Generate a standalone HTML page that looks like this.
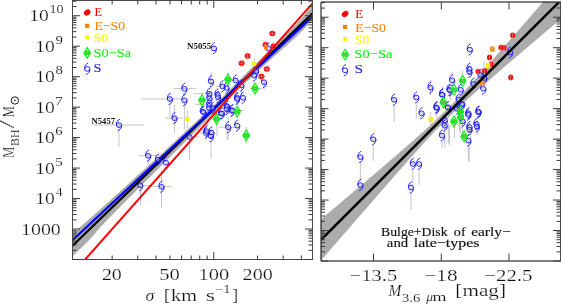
<!DOCTYPE html><html><head><meta charset="utf-8"><style>html,body{margin:0;padding:0;background:#fff;width:561px;height:305px;overflow:hidden}svg{display:block;will-change:transform}text{font-family:"Liberation Serif",serif}</style></head><body>
<svg width="561" height="305" viewBox="0 0 561 305">
<defs>
<clipPath id="cl"><rect x="72.5" y="0.5" width="240.0" height="259.0"/></clipPath>
<clipPath id="cr"><rect x="321.0" y="2.0" width="239.5" height="259.0"/></clipPath>
<g id="S0" fill="none" stroke="#1a1aff" stroke-width="0.95"><ellipse cx="0" cy="0.1" rx="2.6" ry="2.35"/><path d="M0.9,-5.7 C-1.5,-5.0 -2.7,-2.8 -2.6,0.1 M2.6,0.1 C2.7,3.0 1.2,5.0 -1.2,5.7"/></g>
<g id="S"><circle cx="0" cy="0.1" r="1.1" fill="none" stroke="#b0b0b0" stroke-width="0.7"/><use href="#S0"/></g>
<g id="G"><path d="M0,-5.4 L3.3,0 L0,5.4 L-3.3,0 Z" fill="none" stroke="#10f010" stroke-width="1.1"/><ellipse rx="3.3" ry="2.4" fill="#10f010"/><path d="M-2,0 H2 M0,-2 V2" stroke="#a0a0a0" stroke-width="0.6"/></g>
<g id="EL"><ellipse rx="3.6" ry="2.6" transform="rotate(-35)" fill="#ff0000"/></g>
<g id="E"><ellipse rx="2.95" ry="2.75" fill="#ff0000"/><path d="M-3.5,0 H3.5 M0,-3.6 V3.6" stroke="#b0b0b0" stroke-width="0.6"/></g>
<g id="ER"><ellipse rx="2.5" ry="2.8" fill="#ff0000"/><path d="M0,-3.4 V3.4" stroke="#c8c8c8" stroke-width="0.6"/></g>
<g id="O"><rect x="-2.1" y="-2.1" width="4.2" height="4.2" fill="#ff8000"/></g>
<g id="Y"><rect x="-2.1" y="-2.1" width="4.2" height="4.2" fill="#f8f800"/></g>
<g id="OR"><rect x="-2.2" y="-2.6" width="4.4" height="5.2" fill="#ff8000"/><path d="M0,-3 V3" stroke="#d0d0d0" stroke-width="0.6"/></g>
<g id="YR"><rect x="-2.2" y="-2.6" width="4.4" height="5.2" fill="#f8f800"/><path d="M0,-3 V3" stroke="#d0d0d0" stroke-width="0.6"/></g>
</defs>
<g clip-path="url(#cl)">
<line x1="93.90" y1="125.00" x2="144.10" y2="125.00" stroke="#c4c4c4" stroke-width="1" />
<line x1="119.00" y1="125.00" x2="119.00" y2="146.70" stroke="#c4c4c4" stroke-width="1" />
<line x1="173.20" y1="88.70" x2="196.20" y2="88.70" stroke="#c4c4c4" stroke-width="1" />
<line x1="140.80" y1="98.90" x2="181.40" y2="98.90" stroke="#c4c4c4" stroke-width="1" />
<line x1="169.90" y1="98.90" x2="169.90" y2="117.20" stroke="#c4c4c4" stroke-width="1" />
<line x1="184.40" y1="100.20" x2="184.40" y2="130.00" stroke="#c4c4c4" stroke-width="1" />
<line x1="193.70" y1="93.70" x2="210.00" y2="93.70" stroke="#c4c4c4" stroke-width="1" />
<line x1="165.00" y1="118.10" x2="183.00" y2="118.10" stroke="#c4c4c4" stroke-width="1" />
<line x1="174.50" y1="118.10" x2="174.50" y2="133.00" stroke="#c4c4c4" stroke-width="1" />
<line x1="174.50" y1="105.00" x2="174.50" y2="118.10" stroke="#c4c4c4" stroke-width="1" />
<line x1="187.30" y1="118.90" x2="187.30" y2="128.00" stroke="#c4c4c4" stroke-width="1" />
<line x1="187.30" y1="110.70" x2="187.30" y2="118.90" stroke="#c4c4c4" stroke-width="1" />
<line x1="184.70" y1="137.00" x2="199.50" y2="137.00" stroke="#c4c4c4" stroke-width="1" />
<line x1="189.60" y1="137.00" x2="189.60" y2="159.60" stroke="#c4c4c4" stroke-width="1" />
<line x1="211.00" y1="136.20" x2="211.00" y2="158.60" stroke="#c4c4c4" stroke-width="1" />
<line x1="228.20" y1="127.20" x2="228.20" y2="139.30" stroke="#c4c4c4" stroke-width="1" />
<line x1="228.20" y1="116.70" x2="228.20" y2="127.20" stroke="#c4c4c4" stroke-width="1" />
<line x1="138.30" y1="155.70" x2="158.00" y2="155.70" stroke="#c4c4c4" stroke-width="1" />
<line x1="148.20" y1="155.70" x2="148.20" y2="179.00" stroke="#c4c4c4" stroke-width="1" />
<line x1="132.60" y1="185.70" x2="152.30" y2="185.70" stroke="#c4c4c4" stroke-width="1" />
<line x1="140.50" y1="185.70" x2="140.50" y2="205.40" stroke="#c4c4c4" stroke-width="1" />
<line x1="152.30" y1="186.70" x2="172.00" y2="186.70" stroke="#c4c4c4" stroke-width="1" />
<line x1="161.50" y1="186.70" x2="161.50" y2="207.40" stroke="#c4c4c4" stroke-width="1" />
<line x1="161.50" y1="170.00" x2="161.50" y2="186.70" stroke="#c4c4c4" stroke-width="1" />
<line x1="246.20" y1="135.00" x2="246.20" y2="144.20" stroke="#c4c4c4" stroke-width="1" />
<line x1="246.20" y1="126.50" x2="246.20" y2="135.00" stroke="#c4c4c4" stroke-width="1" />
<line x1="232.40" y1="80.50" x2="248.00" y2="80.50" stroke="#c4c4c4" stroke-width="1" />
<line x1="264.00" y1="82.10" x2="264.00" y2="90.30" stroke="#c4c4c4" stroke-width="1" />
<line x1="264.00" y1="83.00" x2="264.00" y2="82.10" stroke="#c4c4c4" stroke-width="1" />
<line x1="250.00" y1="88.50" x2="262.00" y2="88.50" stroke="#c4c4c4" stroke-width="1" />
<line x1="268.80" y1="33.60" x2="275.80" y2="33.60" stroke="#c4c4c4" stroke-width="1" />
<line x1="272.30" y1="33.60" x2="272.30" y2="37.20" stroke="#c4c4c4" stroke-width="1" />
<line x1="272.30" y1="30.00" x2="272.30" y2="33.60" stroke="#c4c4c4" stroke-width="1" />
<line x1="262.00" y1="44.70" x2="269.00" y2="44.70" stroke="#c4c4c4" stroke-width="1" />
<line x1="265.50" y1="44.70" x2="265.50" y2="48.30" stroke="#c4c4c4" stroke-width="1" />
<line x1="265.50" y1="41.00" x2="265.50" y2="44.70" stroke="#c4c4c4" stroke-width="1" />
<line x1="270.00" y1="46.20" x2="277.00" y2="46.20" stroke="#c4c4c4" stroke-width="1" />
<line x1="273.50" y1="46.20" x2="273.50" y2="49.80" stroke="#c4c4c4" stroke-width="1" />
<line x1="273.50" y1="42.60" x2="273.50" y2="46.20" stroke="#c4c4c4" stroke-width="1" />
<line x1="244.10" y1="56.00" x2="251.10" y2="56.00" stroke="#c4c4c4" stroke-width="1" />
<line x1="247.60" y1="56.00" x2="247.60" y2="59.60" stroke="#c4c4c4" stroke-width="1" />
<line x1="247.60" y1="52.40" x2="247.60" y2="56.00" stroke="#c4c4c4" stroke-width="1" />
<line x1="238.10" y1="63.20" x2="245.10" y2="63.20" stroke="#c4c4c4" stroke-width="1" />
<line x1="241.60" y1="63.20" x2="241.60" y2="66.80" stroke="#c4c4c4" stroke-width="1" />
<line x1="241.60" y1="59.60" x2="241.60" y2="63.20" stroke="#c4c4c4" stroke-width="1" />
<line x1="263.30" y1="69.00" x2="270.30" y2="69.00" stroke="#c4c4c4" stroke-width="1" />
<line x1="266.80" y1="69.00" x2="266.80" y2="72.60" stroke="#c4c4c4" stroke-width="1" />
<line x1="266.80" y1="65.40" x2="266.80" y2="69.00" stroke="#c4c4c4" stroke-width="1" />
<line x1="257.90" y1="76.40" x2="264.90" y2="76.40" stroke="#c4c4c4" stroke-width="1" />
<line x1="261.40" y1="76.40" x2="261.40" y2="80.00" stroke="#c4c4c4" stroke-width="1" />
<line x1="261.40" y1="72.80" x2="261.40" y2="76.40" stroke="#c4c4c4" stroke-width="1" />
<line x1="251.20" y1="64.00" x2="257.20" y2="64.00" stroke="#c4c4c4" stroke-width="1" />
<line x1="254.20" y1="64.00" x2="254.20" y2="70.00" stroke="#c4c4c4" stroke-width="1" />
<line x1="254.20" y1="58.00" x2="254.20" y2="64.00" stroke="#c4c4c4" stroke-width="1" />
<line x1="224.00" y1="79.50" x2="232.00" y2="79.50" stroke="#c4c4c4" stroke-width="1" />
<line x1="228.00" y1="79.50" x2="228.00" y2="87.00" stroke="#c4c4c4" stroke-width="1" />
<line x1="228.00" y1="72.00" x2="228.00" y2="79.50" stroke="#c4c4c4" stroke-width="1" />
<line x1="198.00" y1="100.20" x2="206.00" y2="100.20" stroke="#c4c4c4" stroke-width="1" />
<line x1="202.00" y1="100.20" x2="202.00" y2="107.00" stroke="#c4c4c4" stroke-width="1" />
<line x1="202.00" y1="93.00" x2="202.00" y2="100.20" stroke="#c4c4c4" stroke-width="1" />
<line x1="212.50" y1="119.00" x2="220.50" y2="119.00" stroke="#c4c4c4" stroke-width="1" />
<line x1="216.50" y1="119.00" x2="216.50" y2="126.00" stroke="#c4c4c4" stroke-width="1" />
<line x1="216.50" y1="112.00" x2="216.50" y2="119.00" stroke="#c4c4c4" stroke-width="1" />
<line x1="233.00" y1="111.60" x2="241.00" y2="111.60" stroke="#c4c4c4" stroke-width="1" />
<line x1="237.20" y1="111.60" x2="237.20" y2="118.00" stroke="#c4c4c4" stroke-width="1" />
<line x1="237.20" y1="105.00" x2="237.20" y2="111.60" stroke="#c4c4c4" stroke-width="1" />
<line x1="195.00" y1="104.30" x2="210.00" y2="104.30" stroke="#c4c4c4" stroke-width="1" />
<line x1="219.60" y1="127.60" x2="239.20" y2="127.60" stroke="#c4c4c4" stroke-width="1" />
<line x1="227.00" y1="126.00" x2="227.00" y2="140.00" stroke="#c4c4c4" stroke-width="1" />
<line x1="217.00" y1="116.60" x2="217.00" y2="136.00" stroke="#c4c4c4" stroke-width="1" />
<line x1="224.50" y1="110.50" x2="244.00" y2="110.50" stroke="#c4c4c4" stroke-width="1" />
<line x1="200.00" y1="132.90" x2="214.00" y2="132.90" stroke="#c4c4c4" stroke-width="1" />
<line x1="241.40" y1="85.40" x2="241.40" y2="95.00" stroke="#c4c4c4" stroke-width="1" />
<line x1="241.40" y1="80.00" x2="241.40" y2="85.40" stroke="#c4c4c4" stroke-width="1" />
<line x1="216.00" y1="86.30" x2="229.00" y2="86.30" stroke="#c4c4c4" stroke-width="1" />
<line x1="211.00" y1="81.30" x2="211.00" y2="90.00" stroke="#c4c4c4" stroke-width="1" />
<line x1="211.00" y1="72.00" x2="211.00" y2="81.30" stroke="#c4c4c4" stroke-width="1" />
<polygon fill="#ababab" points="72.0,234.2 73.0,233.3 74.0,232.4 75.0,231.6 76.0,230.7 77.0,229.8 78.0,228.9 79.0,228.0 80.0,227.2 81.0,226.3 82.0,225.4 83.0,224.5 84.0,223.6 85.0,222.7 86.0,221.9 87.0,221.0 88.0,220.1 89.0,219.2 90.0,218.3 91.0,217.5 92.0,216.6 93.0,215.7 94.0,214.8 95.0,213.9 96.0,213.0 97.0,212.2 98.0,211.3 99.0,210.4 100.0,209.5 101.0,208.6 102.0,207.7 103.0,206.8 104.0,205.9 105.0,205.0 106.0,204.1 107.0,203.2 108.0,202.3 109.0,201.4 110.0,200.5 111.0,199.6 112.0,198.7 113.0,197.8 114.0,196.9 115.0,196.0 116.0,195.1 117.0,194.2 118.0,193.3 119.0,192.4 120.0,191.5 121.0,190.6 122.0,189.7 123.0,188.8 124.0,187.8 125.0,186.9 126.0,186.0 127.0,185.1 128.0,184.2 129.0,183.3 130.0,182.3 131.0,181.4 132.0,180.5 133.0,179.6 134.0,178.7 135.0,177.7 136.0,176.8 137.0,175.9 138.0,175.0 139.0,174.1 140.0,173.2 141.0,172.3 142.0,171.4 143.0,170.5 144.0,169.6 145.0,168.7 146.0,167.8 147.0,166.9 148.0,166.0 149.0,165.1 150.0,164.2 151.0,163.3 152.0,162.4 153.0,161.5 154.0,160.6 155.0,159.7 156.0,158.8 157.0,157.9 158.0,157.0 159.0,156.1 160.0,155.2 161.0,154.3 162.0,153.3 163.0,152.4 164.0,151.5 165.0,150.5 166.0,149.6 167.0,148.7 168.0,147.8 169.0,146.8 170.0,145.9 171.0,145.0 172.0,144.0 173.0,143.1 174.0,142.2 175.0,141.2 176.0,140.3 177.0,139.4 178.0,138.4 179.0,137.5 180.0,136.6 181.0,135.6 182.0,134.7 183.0,133.8 184.0,132.8 185.0,131.9 186.0,131.0 187.0,130.0 188.0,129.1 189.0,128.2 190.0,127.3 191.0,126.3 192.0,125.4 193.0,124.5 194.0,123.5 195.0,122.6 196.0,121.7 197.0,120.7 198.0,119.8 199.0,118.9 200.0,117.9 201.0,117.0 202.0,116.1 203.0,115.1 204.0,114.2 205.0,113.3 206.0,112.3 207.0,111.4 208.0,110.5 209.0,109.5 210.0,108.6 211.0,107.7 212.0,106.8 213.0,105.8 214.0,104.9 215.0,104.0 216.0,103.0 217.0,102.1 218.0,101.2 219.0,100.2 220.0,99.3 221.0,98.4 222.0,97.4 223.0,96.5 224.0,95.6 225.0,94.6 226.0,93.6 227.0,92.6 228.0,91.6 229.0,90.6 230.0,89.6 231.0,88.6 232.0,87.6 233.0,86.6 234.0,85.6 235.0,84.6 236.0,83.6 237.0,82.6 238.0,81.6 239.0,80.6 240.0,79.5 241.0,78.5 242.0,77.5 243.0,76.5 244.0,75.5 245.0,74.5 246.0,73.5 247.0,72.5 248.0,71.5 249.0,70.5 250.0,69.5 251.0,68.5 252.0,67.5 253.0,66.5 254.0,65.5 255.0,64.5 256.0,63.4 257.0,62.4 258.0,61.4 259.0,60.4 260.0,59.4 261.0,58.4 262.0,57.4 263.0,56.4 264.0,55.4 265.0,54.4 266.0,53.4 267.0,52.5 268.0,51.5 269.0,50.6 270.0,49.6 271.0,48.6 272.0,47.7 273.0,46.7 274.0,45.8 275.0,44.8 276.0,43.8 277.0,42.9 278.0,41.9 279.0,41.0 280.0,40.0 281.0,39.1 282.0,38.1 283.0,37.1 284.0,36.2 285.0,35.2 286.0,34.3 287.0,33.3 288.0,32.3 289.0,31.4 290.0,30.4 291.0,29.5 292.0,28.5 293.0,27.5 294.0,26.6 295.0,25.6 296.0,24.7 297.0,23.5 298.0,22.3 299.0,21.2 300.0,20.0 301.0,18.9 302.0,17.7 303.0,16.5 304.0,15.4 305.0,14.2 306.0,13.0 307.0,11.9 308.0,10.7 309.0,9.6 310.0,8.4 311.0,7.2 312.0,6.1 313.0,4.9 313.0,20.1 312.0,21.1 311.0,22.1 310.0,23.1 309.0,24.1 308.0,25.1 307.0,26.1 306.0,27.1 305.0,28.1 304.0,29.1 303.0,30.1 302.0,31.1 301.0,32.1 300.0,33.1 299.0,34.1 298.0,35.1 297.0,36.1 296.0,37.1 295.0,38.0 294.0,38.9 293.0,39.7 292.0,40.6 291.0,41.5 290.0,42.4 289.0,43.3 288.0,44.2 287.0,45.1 286.0,46.0 285.0,46.9 284.0,47.8 283.0,48.6 282.0,49.5 281.0,50.4 280.0,51.3 279.0,52.2 278.0,53.1 277.0,54.0 276.0,54.9 275.0,55.8 274.0,56.7 273.0,57.5 272.0,58.4 271.0,59.3 270.0,60.2 269.0,61.1 268.0,62.0 267.0,62.9 266.0,63.8 265.0,64.7 264.0,65.6 263.0,66.5 262.0,67.5 261.0,68.4 260.0,69.3 259.0,70.3 258.0,71.2 257.0,72.2 256.0,73.1 255.0,74.0 254.0,75.0 253.0,75.9 252.0,76.8 251.0,77.8 250.0,78.7 249.0,79.7 248.0,80.6 247.0,81.5 246.0,82.5 245.0,83.4 244.0,84.3 243.0,85.3 242.0,86.2 241.0,87.1 240.0,88.1 239.0,89.0 238.0,90.0 237.0,90.9 236.0,91.8 235.0,92.8 234.0,93.7 233.0,94.6 232.0,95.6 231.0,96.5 230.0,97.5 229.0,98.4 228.0,99.3 227.0,100.3 226.0,101.2 225.0,102.1 224.0,103.1 223.0,104.1 222.0,105.1 221.0,106.1 220.0,107.1 219.0,108.1 218.0,109.1 217.0,110.1 216.0,111.1 215.0,112.1 214.0,113.1 213.0,114.1 212.0,115.1 211.0,116.1 210.0,117.1 209.0,118.1 208.0,119.1 207.0,120.1 206.0,121.1 205.0,122.1 204.0,123.1 203.0,124.1 202.0,125.1 201.0,126.1 200.0,127.1 199.0,128.1 198.0,129.1 197.0,130.1 196.0,131.1 195.0,132.1 194.0,133.1 193.0,134.1 192.0,135.1 191.0,136.1 190.0,137.1 189.0,138.1 188.0,139.1 187.0,140.0 186.0,141.0 185.0,142.0 184.0,143.0 183.0,144.0 182.0,145.0 181.0,146.0 180.0,147.0 179.0,148.0 178.0,149.0 177.0,150.0 176.0,151.0 175.0,152.0 174.0,153.0 173.0,154.0 172.0,155.0 171.0,156.0 170.0,157.0 169.0,158.0 168.0,159.0 167.0,160.0 166.0,161.0 165.0,162.0 164.0,163.0 163.0,164.0 162.0,165.0 161.0,166.0 160.0,167.0 159.0,168.0 158.0,169.0 157.0,170.0 156.0,171.0 155.0,172.0 154.0,173.0 153.0,174.0 152.0,175.0 151.0,176.0 150.0,177.0 149.0,178.0 148.0,179.0 147.0,179.9 146.0,180.9 145.0,181.9 144.0,182.9 143.0,183.9 142.0,184.9 141.0,185.9 140.0,186.9 139.0,187.9 138.0,188.9 137.0,189.9 136.0,190.9 135.0,191.9 134.0,192.9 133.0,193.9 132.0,194.9 131.0,195.9 130.0,196.9 129.0,197.9 128.0,198.9 127.0,199.9 126.0,200.9 125.0,201.9 124.0,202.9 123.0,203.9 122.0,204.9 121.0,205.9 120.0,206.9 119.0,207.9 118.0,208.9 117.0,209.9 116.0,210.9 115.0,212.0 114.0,213.0 113.0,214.1 112.0,215.1 111.0,216.1 110.0,217.2 109.0,218.2 108.0,219.3 107.0,220.3 106.0,221.4 105.0,222.4 104.0,223.4 103.0,224.5 102.0,225.5 101.0,226.6 100.0,227.6 99.0,228.8 98.0,229.9 97.0,231.1 96.0,232.2 95.0,233.4 94.0,234.5 93.0,235.7 92.0,236.9 91.0,238.0 90.0,239.2 89.0,240.2 88.0,241.2 87.0,242.2 86.0,243.2 85.0,244.2 84.0,245.2 83.0,246.2 82.0,247.2 81.0,248.1 80.0,249.1 79.0,250.1 78.0,251.1 77.0,252.1 76.0,253.1 75.0,254.1 74.0,255.1 73.0,256.1 72.0,257.1"/>
<use href="#S" x="140.2" y="185.2"/>
<line x1="72.50" y1="245.83" x2="312.50" y2="13.39" stroke="#000" stroke-width="2.2" />
<line x1="72.50" y1="240.24" x2="312.50" y2="16.60" stroke="#0000ff" stroke-width="2.2" />
<use href="#S" x="213.9" y="48.3"/>
<use href="#S" x="119.0" y="125.0"/>
<use href="#S" x="268.3" y="48.5"/>
<use href="#S" x="256.0" y="71.0"/>
<use href="#S" x="264.0" y="82.1"/>
<use href="#S" x="235.7" y="80.5"/>
<use href="#S" x="241.4" y="85.4"/>
<use href="#S" x="237.3" y="97.7"/>
<use href="#S" x="243.0" y="97.7"/>
<use href="#S" x="227.5" y="106.7"/>
<use href="#S" x="226.6" y="87.9"/>
<use href="#S" x="184.4" y="88.7"/>
<use href="#S" x="169.9" y="98.9"/>
<use href="#S" x="184.4" y="100.2"/>
<use href="#S" x="211.0" y="81.3"/>
<use href="#S" x="209.3" y="93.7"/>
<use href="#S" x="209.3" y="104.3"/>
<use href="#S" x="217.5" y="94.5"/>
<use href="#S" x="222.5" y="86.3"/>
<use href="#S" x="226.6" y="106.0"/>
<use href="#S" x="174.5" y="118.1"/>
<use href="#S" x="202.8" y="111.6"/>
<use href="#S" x="209.3" y="108.3"/>
<use href="#S" x="206.0" y="132.9"/>
<use href="#S" x="211.0" y="136.2"/>
<use href="#S" x="189.6" y="137.0"/>
<use href="#S" x="220.8" y="113.2"/>
<use href="#S" x="226.6" y="109.1"/>
<use href="#S" x="228.2" y="127.2"/>
<use href="#S" x="148.2" y="155.7"/>
<use href="#S" x="158.0" y="159.7"/>
<use href="#S" x="165.9" y="162.6"/>
<use href="#S" x="161.5" y="186.7"/>
<use href="#S" x="231.9" y="110.8"/>
<use href="#S" x="237.2" y="125.6"/>
<use href="#S" x="209.4" y="98.3"/>
<use href="#S" x="218.0" y="97.0"/>
<use href="#S" x="203.5" y="112.1"/>
<use href="#S" x="212.7" y="108.1"/>
<use href="#S" x="221.9" y="113.4"/>
<use href="#S" x="232.4" y="110.1"/>
<use href="#S" x="237.0" y="98.9"/>
<use href="#S" x="206.8" y="131.1"/>
<use href="#S" x="211.4" y="132.4"/>
<use href="#S" x="254.2" y="75.6"/>
<use href="#G" x="228.0" y="79.5"/>
<use href="#G" x="255.0" y="88.5"/>
<use href="#G" x="202.0" y="100.2"/>
<use href="#G" x="216.5" y="119.0"/>
<use href="#G" x="237.2" y="111.6"/>
<use href="#G" x="246.2" y="135.5"/>
<use href="#E" x="272.3" y="33.6"/>
<use href="#E" x="265.5" y="44.7"/>
<use href="#E" x="273.5" y="46.2"/>
<use href="#E" x="247.6" y="56.0"/>
<use href="#E" x="241.6" y="63.2"/>
<use href="#E" x="266.8" y="69.0"/>
<use href="#E" x="261.4" y="76.4"/>
<use href="#O" x="266.0" y="47.3"/>
<use href="#Y" x="254.2" y="64.0"/>
<use href="#Y" x="187.3" y="118.9"/>
<line x1="85.13" y1="259.50" x2="312.50" y2="3.40" stroke="#ff0000" stroke-width="2.0" />
</g>
<rect x="72.5" y="0.5" width="240.0" height="259.0" fill="none" stroke="#4a4a4a" stroke-width="1"/>
<line x1="72.50" y1="259.50" x2="80.00" y2="259.50" stroke="#3a3a3a" stroke-width="1" />
<line x1="312.50" y1="259.50" x2="305.00" y2="259.50" stroke="#3a3a3a" stroke-width="1" />
<line x1="72.50" y1="250.32" x2="76.50" y2="250.32" stroke="#3a3a3a" stroke-width="1" />
<line x1="312.50" y1="250.32" x2="308.50" y2="250.32" stroke="#3a3a3a" stroke-width="1" />
<line x1="72.50" y1="244.96" x2="76.50" y2="244.96" stroke="#3a3a3a" stroke-width="1" />
<line x1="312.50" y1="244.96" x2="308.50" y2="244.96" stroke="#3a3a3a" stroke-width="1" />
<line x1="72.50" y1="241.15" x2="76.50" y2="241.15" stroke="#3a3a3a" stroke-width="1" />
<line x1="312.50" y1="241.15" x2="308.50" y2="241.15" stroke="#3a3a3a" stroke-width="1" />
<line x1="72.50" y1="238.20" x2="76.50" y2="238.20" stroke="#3a3a3a" stroke-width="1" />
<line x1="312.50" y1="238.20" x2="308.50" y2="238.20" stroke="#3a3a3a" stroke-width="1" />
<line x1="72.50" y1="235.78" x2="76.50" y2="235.78" stroke="#3a3a3a" stroke-width="1" />
<line x1="312.50" y1="235.78" x2="308.50" y2="235.78" stroke="#3a3a3a" stroke-width="1" />
<line x1="72.50" y1="233.74" x2="76.50" y2="233.74" stroke="#3a3a3a" stroke-width="1" />
<line x1="312.50" y1="233.74" x2="308.50" y2="233.74" stroke="#3a3a3a" stroke-width="1" />
<line x1="72.50" y1="231.98" x2="76.50" y2="231.98" stroke="#3a3a3a" stroke-width="1" />
<line x1="312.50" y1="231.98" x2="308.50" y2="231.98" stroke="#3a3a3a" stroke-width="1" />
<line x1="72.50" y1="230.42" x2="76.50" y2="230.42" stroke="#3a3a3a" stroke-width="1" />
<line x1="312.50" y1="230.42" x2="308.50" y2="230.42" stroke="#3a3a3a" stroke-width="1" />
<line x1="72.50" y1="229.02" x2="80.00" y2="229.02" stroke="#3a3a3a" stroke-width="1" />
<line x1="312.50" y1="229.02" x2="305.00" y2="229.02" stroke="#3a3a3a" stroke-width="1" />
<line x1="72.50" y1="219.85" x2="76.50" y2="219.85" stroke="#3a3a3a" stroke-width="1" />
<line x1="312.50" y1="219.85" x2="308.50" y2="219.85" stroke="#3a3a3a" stroke-width="1" />
<line x1="72.50" y1="214.49" x2="76.50" y2="214.49" stroke="#3a3a3a" stroke-width="1" />
<line x1="312.50" y1="214.49" x2="308.50" y2="214.49" stroke="#3a3a3a" stroke-width="1" />
<line x1="72.50" y1="210.68" x2="76.50" y2="210.68" stroke="#3a3a3a" stroke-width="1" />
<line x1="312.50" y1="210.68" x2="308.50" y2="210.68" stroke="#3a3a3a" stroke-width="1" />
<line x1="72.50" y1="207.73" x2="76.50" y2="207.73" stroke="#3a3a3a" stroke-width="1" />
<line x1="312.50" y1="207.73" x2="308.50" y2="207.73" stroke="#3a3a3a" stroke-width="1" />
<line x1="72.50" y1="205.31" x2="76.50" y2="205.31" stroke="#3a3a3a" stroke-width="1" />
<line x1="312.50" y1="205.31" x2="308.50" y2="205.31" stroke="#3a3a3a" stroke-width="1" />
<line x1="72.50" y1="203.27" x2="76.50" y2="203.27" stroke="#3a3a3a" stroke-width="1" />
<line x1="312.50" y1="203.27" x2="308.50" y2="203.27" stroke="#3a3a3a" stroke-width="1" />
<line x1="72.50" y1="201.51" x2="76.50" y2="201.51" stroke="#3a3a3a" stroke-width="1" />
<line x1="312.50" y1="201.51" x2="308.50" y2="201.51" stroke="#3a3a3a" stroke-width="1" />
<line x1="72.50" y1="199.95" x2="76.50" y2="199.95" stroke="#3a3a3a" stroke-width="1" />
<line x1="312.50" y1="199.95" x2="308.50" y2="199.95" stroke="#3a3a3a" stroke-width="1" />
<line x1="72.50" y1="198.56" x2="80.00" y2="198.56" stroke="#3a3a3a" stroke-width="1" />
<line x1="312.50" y1="198.56" x2="305.00" y2="198.56" stroke="#3a3a3a" stroke-width="1" />
<line x1="72.50" y1="189.38" x2="76.50" y2="189.38" stroke="#3a3a3a" stroke-width="1" />
<line x1="312.50" y1="189.38" x2="308.50" y2="189.38" stroke="#3a3a3a" stroke-width="1" />
<line x1="72.50" y1="184.02" x2="76.50" y2="184.02" stroke="#3a3a3a" stroke-width="1" />
<line x1="312.50" y1="184.02" x2="308.50" y2="184.02" stroke="#3a3a3a" stroke-width="1" />
<line x1="72.50" y1="180.21" x2="76.50" y2="180.21" stroke="#3a3a3a" stroke-width="1" />
<line x1="312.50" y1="180.21" x2="308.50" y2="180.21" stroke="#3a3a3a" stroke-width="1" />
<line x1="72.50" y1="177.26" x2="76.50" y2="177.26" stroke="#3a3a3a" stroke-width="1" />
<line x1="312.50" y1="177.26" x2="308.50" y2="177.26" stroke="#3a3a3a" stroke-width="1" />
<line x1="72.50" y1="174.84" x2="76.50" y2="174.84" stroke="#3a3a3a" stroke-width="1" />
<line x1="312.50" y1="174.84" x2="308.50" y2="174.84" stroke="#3a3a3a" stroke-width="1" />
<line x1="72.50" y1="172.80" x2="76.50" y2="172.80" stroke="#3a3a3a" stroke-width="1" />
<line x1="312.50" y1="172.80" x2="308.50" y2="172.80" stroke="#3a3a3a" stroke-width="1" />
<line x1="72.50" y1="171.04" x2="76.50" y2="171.04" stroke="#3a3a3a" stroke-width="1" />
<line x1="312.50" y1="171.04" x2="308.50" y2="171.04" stroke="#3a3a3a" stroke-width="1" />
<line x1="72.50" y1="169.48" x2="76.50" y2="169.48" stroke="#3a3a3a" stroke-width="1" />
<line x1="312.50" y1="169.48" x2="308.50" y2="169.48" stroke="#3a3a3a" stroke-width="1" />
<line x1="72.50" y1="168.08" x2="80.00" y2="168.08" stroke="#3a3a3a" stroke-width="1" />
<line x1="312.50" y1="168.08" x2="305.00" y2="168.08" stroke="#3a3a3a" stroke-width="1" />
<line x1="72.50" y1="158.91" x2="76.50" y2="158.91" stroke="#3a3a3a" stroke-width="1" />
<line x1="312.50" y1="158.91" x2="308.50" y2="158.91" stroke="#3a3a3a" stroke-width="1" />
<line x1="72.50" y1="153.55" x2="76.50" y2="153.55" stroke="#3a3a3a" stroke-width="1" />
<line x1="312.50" y1="153.55" x2="308.50" y2="153.55" stroke="#3a3a3a" stroke-width="1" />
<line x1="72.50" y1="149.74" x2="76.50" y2="149.74" stroke="#3a3a3a" stroke-width="1" />
<line x1="312.50" y1="149.74" x2="308.50" y2="149.74" stroke="#3a3a3a" stroke-width="1" />
<line x1="72.50" y1="146.79" x2="76.50" y2="146.79" stroke="#3a3a3a" stroke-width="1" />
<line x1="312.50" y1="146.79" x2="308.50" y2="146.79" stroke="#3a3a3a" stroke-width="1" />
<line x1="72.50" y1="144.37" x2="76.50" y2="144.37" stroke="#3a3a3a" stroke-width="1" />
<line x1="312.50" y1="144.37" x2="308.50" y2="144.37" stroke="#3a3a3a" stroke-width="1" />
<line x1="72.50" y1="142.33" x2="76.50" y2="142.33" stroke="#3a3a3a" stroke-width="1" />
<line x1="312.50" y1="142.33" x2="308.50" y2="142.33" stroke="#3a3a3a" stroke-width="1" />
<line x1="72.50" y1="140.57" x2="76.50" y2="140.57" stroke="#3a3a3a" stroke-width="1" />
<line x1="312.50" y1="140.57" x2="308.50" y2="140.57" stroke="#3a3a3a" stroke-width="1" />
<line x1="72.50" y1="139.01" x2="76.50" y2="139.01" stroke="#3a3a3a" stroke-width="1" />
<line x1="312.50" y1="139.01" x2="308.50" y2="139.01" stroke="#3a3a3a" stroke-width="1" />
<line x1="72.50" y1="137.62" x2="80.00" y2="137.62" stroke="#3a3a3a" stroke-width="1" />
<line x1="312.50" y1="137.62" x2="305.00" y2="137.62" stroke="#3a3a3a" stroke-width="1" />
<line x1="72.50" y1="128.44" x2="76.50" y2="128.44" stroke="#3a3a3a" stroke-width="1" />
<line x1="312.50" y1="128.44" x2="308.50" y2="128.44" stroke="#3a3a3a" stroke-width="1" />
<line x1="72.50" y1="123.08" x2="76.50" y2="123.08" stroke="#3a3a3a" stroke-width="1" />
<line x1="312.50" y1="123.08" x2="308.50" y2="123.08" stroke="#3a3a3a" stroke-width="1" />
<line x1="72.50" y1="119.27" x2="76.50" y2="119.27" stroke="#3a3a3a" stroke-width="1" />
<line x1="312.50" y1="119.27" x2="308.50" y2="119.27" stroke="#3a3a3a" stroke-width="1" />
<line x1="72.50" y1="116.32" x2="76.50" y2="116.32" stroke="#3a3a3a" stroke-width="1" />
<line x1="312.50" y1="116.32" x2="308.50" y2="116.32" stroke="#3a3a3a" stroke-width="1" />
<line x1="72.50" y1="113.90" x2="76.50" y2="113.90" stroke="#3a3a3a" stroke-width="1" />
<line x1="312.50" y1="113.90" x2="308.50" y2="113.90" stroke="#3a3a3a" stroke-width="1" />
<line x1="72.50" y1="111.86" x2="76.50" y2="111.86" stroke="#3a3a3a" stroke-width="1" />
<line x1="312.50" y1="111.86" x2="308.50" y2="111.86" stroke="#3a3a3a" stroke-width="1" />
<line x1="72.50" y1="110.10" x2="76.50" y2="110.10" stroke="#3a3a3a" stroke-width="1" />
<line x1="312.50" y1="110.10" x2="308.50" y2="110.10" stroke="#3a3a3a" stroke-width="1" />
<line x1="72.50" y1="108.54" x2="76.50" y2="108.54" stroke="#3a3a3a" stroke-width="1" />
<line x1="312.50" y1="108.54" x2="308.50" y2="108.54" stroke="#3a3a3a" stroke-width="1" />
<line x1="72.50" y1="107.14" x2="80.00" y2="107.14" stroke="#3a3a3a" stroke-width="1" />
<line x1="312.50" y1="107.14" x2="305.00" y2="107.14" stroke="#3a3a3a" stroke-width="1" />
<line x1="72.50" y1="97.97" x2="76.50" y2="97.97" stroke="#3a3a3a" stroke-width="1" />
<line x1="312.50" y1="97.97" x2="308.50" y2="97.97" stroke="#3a3a3a" stroke-width="1" />
<line x1="72.50" y1="92.61" x2="76.50" y2="92.61" stroke="#3a3a3a" stroke-width="1" />
<line x1="312.50" y1="92.61" x2="308.50" y2="92.61" stroke="#3a3a3a" stroke-width="1" />
<line x1="72.50" y1="88.80" x2="76.50" y2="88.80" stroke="#3a3a3a" stroke-width="1" />
<line x1="312.50" y1="88.80" x2="308.50" y2="88.80" stroke="#3a3a3a" stroke-width="1" />
<line x1="72.50" y1="85.85" x2="76.50" y2="85.85" stroke="#3a3a3a" stroke-width="1" />
<line x1="312.50" y1="85.85" x2="308.50" y2="85.85" stroke="#3a3a3a" stroke-width="1" />
<line x1="72.50" y1="83.43" x2="76.50" y2="83.43" stroke="#3a3a3a" stroke-width="1" />
<line x1="312.50" y1="83.43" x2="308.50" y2="83.43" stroke="#3a3a3a" stroke-width="1" />
<line x1="72.50" y1="81.39" x2="76.50" y2="81.39" stroke="#3a3a3a" stroke-width="1" />
<line x1="312.50" y1="81.39" x2="308.50" y2="81.39" stroke="#3a3a3a" stroke-width="1" />
<line x1="72.50" y1="79.63" x2="76.50" y2="79.63" stroke="#3a3a3a" stroke-width="1" />
<line x1="312.50" y1="79.63" x2="308.50" y2="79.63" stroke="#3a3a3a" stroke-width="1" />
<line x1="72.50" y1="78.07" x2="76.50" y2="78.07" stroke="#3a3a3a" stroke-width="1" />
<line x1="312.50" y1="78.07" x2="308.50" y2="78.07" stroke="#3a3a3a" stroke-width="1" />
<line x1="72.50" y1="76.67" x2="80.00" y2="76.67" stroke="#3a3a3a" stroke-width="1" />
<line x1="312.50" y1="76.67" x2="305.00" y2="76.67" stroke="#3a3a3a" stroke-width="1" />
<line x1="72.50" y1="67.50" x2="76.50" y2="67.50" stroke="#3a3a3a" stroke-width="1" />
<line x1="312.50" y1="67.50" x2="308.50" y2="67.50" stroke="#3a3a3a" stroke-width="1" />
<line x1="72.50" y1="62.14" x2="76.50" y2="62.14" stroke="#3a3a3a" stroke-width="1" />
<line x1="312.50" y1="62.14" x2="308.50" y2="62.14" stroke="#3a3a3a" stroke-width="1" />
<line x1="72.50" y1="58.33" x2="76.50" y2="58.33" stroke="#3a3a3a" stroke-width="1" />
<line x1="312.50" y1="58.33" x2="308.50" y2="58.33" stroke="#3a3a3a" stroke-width="1" />
<line x1="72.50" y1="55.38" x2="76.50" y2="55.38" stroke="#3a3a3a" stroke-width="1" />
<line x1="312.50" y1="55.38" x2="308.50" y2="55.38" stroke="#3a3a3a" stroke-width="1" />
<line x1="72.50" y1="52.96" x2="76.50" y2="52.96" stroke="#3a3a3a" stroke-width="1" />
<line x1="312.50" y1="52.96" x2="308.50" y2="52.96" stroke="#3a3a3a" stroke-width="1" />
<line x1="72.50" y1="50.92" x2="76.50" y2="50.92" stroke="#3a3a3a" stroke-width="1" />
<line x1="312.50" y1="50.92" x2="308.50" y2="50.92" stroke="#3a3a3a" stroke-width="1" />
<line x1="72.50" y1="49.16" x2="76.50" y2="49.16" stroke="#3a3a3a" stroke-width="1" />
<line x1="312.50" y1="49.16" x2="308.50" y2="49.16" stroke="#3a3a3a" stroke-width="1" />
<line x1="72.50" y1="47.60" x2="76.50" y2="47.60" stroke="#3a3a3a" stroke-width="1" />
<line x1="312.50" y1="47.60" x2="308.50" y2="47.60" stroke="#3a3a3a" stroke-width="1" />
<line x1="72.50" y1="46.20" x2="80.00" y2="46.20" stroke="#3a3a3a" stroke-width="1" />
<line x1="312.50" y1="46.20" x2="305.00" y2="46.20" stroke="#3a3a3a" stroke-width="1" />
<line x1="72.50" y1="37.03" x2="76.50" y2="37.03" stroke="#3a3a3a" stroke-width="1" />
<line x1="312.50" y1="37.03" x2="308.50" y2="37.03" stroke="#3a3a3a" stroke-width="1" />
<line x1="72.50" y1="31.67" x2="76.50" y2="31.67" stroke="#3a3a3a" stroke-width="1" />
<line x1="312.50" y1="31.67" x2="308.50" y2="31.67" stroke="#3a3a3a" stroke-width="1" />
<line x1="72.50" y1="27.86" x2="76.50" y2="27.86" stroke="#3a3a3a" stroke-width="1" />
<line x1="312.50" y1="27.86" x2="308.50" y2="27.86" stroke="#3a3a3a" stroke-width="1" />
<line x1="72.50" y1="24.91" x2="76.50" y2="24.91" stroke="#3a3a3a" stroke-width="1" />
<line x1="312.50" y1="24.91" x2="308.50" y2="24.91" stroke="#3a3a3a" stroke-width="1" />
<line x1="72.50" y1="22.49" x2="76.50" y2="22.49" stroke="#3a3a3a" stroke-width="1" />
<line x1="312.50" y1="22.49" x2="308.50" y2="22.49" stroke="#3a3a3a" stroke-width="1" />
<line x1="72.50" y1="20.45" x2="76.50" y2="20.45" stroke="#3a3a3a" stroke-width="1" />
<line x1="312.50" y1="20.45" x2="308.50" y2="20.45" stroke="#3a3a3a" stroke-width="1" />
<line x1="72.50" y1="18.69" x2="76.50" y2="18.69" stroke="#3a3a3a" stroke-width="1" />
<line x1="312.50" y1="18.69" x2="308.50" y2="18.69" stroke="#3a3a3a" stroke-width="1" />
<line x1="72.50" y1="17.13" x2="76.50" y2="17.13" stroke="#3a3a3a" stroke-width="1" />
<line x1="312.50" y1="17.13" x2="308.50" y2="17.13" stroke="#3a3a3a" stroke-width="1" />
<line x1="72.50" y1="15.73" x2="80.00" y2="15.73" stroke="#3a3a3a" stroke-width="1" />
<line x1="312.50" y1="15.73" x2="305.00" y2="15.73" stroke="#3a3a3a" stroke-width="1" />
<line x1="72.50" y1="6.56" x2="76.50" y2="6.56" stroke="#3a3a3a" stroke-width="1" />
<line x1="312.50" y1="6.56" x2="308.50" y2="6.56" stroke="#3a3a3a" stroke-width="1" />
<line x1="72.50" y1="1.20" x2="76.50" y2="1.20" stroke="#3a3a3a" stroke-width="1" />
<line x1="312.50" y1="1.20" x2="308.50" y2="1.20" stroke="#3a3a3a" stroke-width="1" />
<line x1="112.17" y1="259.50" x2="112.17" y2="255.50" stroke="#3a3a3a" stroke-width="1" />
<line x1="112.17" y1="0.50" x2="112.17" y2="4.50" stroke="#3a3a3a" stroke-width="1" />
<line x1="137.77" y1="259.50" x2="137.77" y2="255.50" stroke="#3a3a3a" stroke-width="1" />
<line x1="137.77" y1="0.50" x2="137.77" y2="4.50" stroke="#3a3a3a" stroke-width="1" />
<line x1="155.94" y1="259.50" x2="155.94" y2="255.50" stroke="#3a3a3a" stroke-width="1" />
<line x1="155.94" y1="0.50" x2="155.94" y2="4.50" stroke="#3a3a3a" stroke-width="1" />
<line x1="170.03" y1="259.50" x2="170.03" y2="255.50" stroke="#3a3a3a" stroke-width="1" />
<line x1="170.03" y1="0.50" x2="170.03" y2="4.50" stroke="#3a3a3a" stroke-width="1" />
<line x1="181.54" y1="259.50" x2="181.54" y2="255.50" stroke="#3a3a3a" stroke-width="1" />
<line x1="181.54" y1="0.50" x2="181.54" y2="4.50" stroke="#3a3a3a" stroke-width="1" />
<line x1="191.28" y1="259.50" x2="191.28" y2="255.50" stroke="#3a3a3a" stroke-width="1" />
<line x1="191.28" y1="0.50" x2="191.28" y2="4.50" stroke="#3a3a3a" stroke-width="1" />
<line x1="199.71" y1="259.50" x2="199.71" y2="255.50" stroke="#3a3a3a" stroke-width="1" />
<line x1="199.71" y1="0.50" x2="199.71" y2="4.50" stroke="#3a3a3a" stroke-width="1" />
<line x1="207.15" y1="259.50" x2="207.15" y2="255.50" stroke="#3a3a3a" stroke-width="1" />
<line x1="207.15" y1="0.50" x2="207.15" y2="4.50" stroke="#3a3a3a" stroke-width="1" />
<line x1="213.80" y1="259.50" x2="213.80" y2="252.00" stroke="#3a3a3a" stroke-width="1" />
<line x1="213.80" y1="0.50" x2="213.80" y2="8.00" stroke="#3a3a3a" stroke-width="1" />
<line x1="257.57" y1="259.50" x2="257.57" y2="255.50" stroke="#3a3a3a" stroke-width="1" />
<line x1="257.57" y1="0.50" x2="257.57" y2="4.50" stroke="#3a3a3a" stroke-width="1" />
<line x1="283.17" y1="259.50" x2="283.17" y2="255.50" stroke="#3a3a3a" stroke-width="1" />
<line x1="283.17" y1="0.50" x2="283.17" y2="4.50" stroke="#3a3a3a" stroke-width="1" />
<line x1="301.34" y1="259.50" x2="301.34" y2="255.50" stroke="#3a3a3a" stroke-width="1" />
<line x1="301.34" y1="0.50" x2="301.34" y2="4.50" stroke="#3a3a3a" stroke-width="1" />
<g clip-path="url(#cr)">
<polygon fill="#ababab" points="320.0,220.1 321.0,219.2 322.0,218.4 323.0,217.6 324.0,216.7 325.0,215.9 326.0,215.0 327.0,214.2 328.0,213.3 329.0,212.5 330.0,211.6 331.0,210.8 332.0,210.0 333.0,209.1 334.0,208.3 335.0,207.4 336.0,206.6 337.0,205.7 338.0,204.9 339.0,204.0 340.0,203.2 341.0,202.4 342.0,201.5 343.0,200.7 344.0,199.8 345.0,199.0 346.0,198.1 347.0,197.3 348.0,196.4 349.0,195.6 350.0,194.7 351.0,193.9 352.0,193.0 353.0,192.2 354.0,191.3 355.0,190.5 356.0,189.7 357.0,188.8 358.0,188.0 359.0,187.1 360.0,186.3 361.0,185.4 362.0,184.6 363.0,183.7 364.0,182.9 365.0,182.0 366.0,181.2 367.0,180.3 368.0,179.5 369.0,178.6 370.0,177.8 371.0,176.9 372.0,176.1 373.0,175.2 374.0,174.4 375.0,173.5 376.0,172.7 377.0,171.8 378.0,171.0 379.0,170.1 380.0,169.2 381.0,168.4 382.0,167.5 383.0,166.7 384.0,165.8 385.0,165.0 386.0,164.1 387.0,163.3 388.0,162.4 389.0,161.5 390.0,160.7 391.0,159.8 392.0,159.0 393.0,158.1 394.0,157.2 395.0,156.4 396.0,155.5 397.0,154.7 398.0,153.8 399.0,152.9 400.0,152.1 401.0,151.2 402.0,150.3 403.0,149.5 404.0,148.6 405.0,147.7 406.0,146.9 407.0,146.0 408.0,145.1 409.0,144.3 410.0,143.4 411.0,142.5 412.0,141.6 413.0,140.7 414.0,139.9 415.0,139.0 416.0,138.1 417.0,137.2 418.0,136.3 419.0,135.4 420.0,134.5 421.0,133.6 422.0,132.8 423.0,131.9 424.0,131.0 425.0,130.0 426.0,129.1 427.0,128.2 428.0,127.3 429.0,126.4 430.0,125.5 431.0,124.6 432.0,123.6 433.0,122.7 434.0,121.8 435.0,120.8 436.0,119.9 437.0,118.9 438.0,118.0 439.0,117.0 440.0,116.1 441.0,115.1 442.0,114.1 443.0,113.2 444.0,112.2 445.0,111.2 446.0,110.2 447.0,109.2 448.0,108.2 449.0,107.2 450.0,106.2 451.0,105.2 452.0,104.1 453.0,103.1 454.0,102.1 455.0,101.0 456.0,100.0 457.0,98.9 458.0,97.9 459.0,96.8 460.0,95.8 461.0,94.7 462.0,93.6 463.0,92.6 464.0,91.5 465.0,90.4 466.0,89.3 467.0,88.2 468.0,87.1 469.0,86.1 470.0,85.0 471.0,83.9 472.0,82.8 473.0,81.7 474.0,80.6 475.0,79.4 476.0,78.3 477.0,77.2 478.0,76.1 479.0,75.0 480.0,73.9 481.0,72.8 482.0,71.6 483.0,70.5 484.0,69.4 485.0,68.3 486.0,67.2 487.0,66.0 488.0,64.9 489.0,63.8 490.0,62.6 491.0,61.5 492.0,60.4 493.0,59.2 494.0,58.1 495.0,57.0 496.0,55.8 497.0,54.7 498.0,53.6 499.0,52.4 500.0,51.3 501.0,50.2 502.0,49.0 503.0,47.9 504.0,46.7 505.0,45.6 506.0,44.5 507.0,43.3 508.0,42.2 509.0,41.0 510.0,39.9 511.0,38.8 512.0,37.6 513.0,36.5 514.0,35.3 515.0,34.2 516.0,33.0 517.0,31.9 518.0,30.7 519.0,29.6 520.0,28.4 521.0,27.3 522.0,26.2 523.0,25.0 524.0,23.9 525.0,22.7 526.0,21.6 527.0,20.4 528.0,19.3 529.0,18.1 530.0,17.0 531.0,15.8 532.0,14.7 533.0,13.5 534.0,12.4 535.0,11.2 536.0,10.1 537.0,8.9 538.0,7.8 539.0,6.6 540.0,5.5 541.0,4.3 542.0,3.2 543.0,2.0 544.0,0.9 545.0,-0.3 546.0,-1.4 547.0,-2.6 548.0,-3.7 549.0,-4.9 550.0,-6.0 551.0,-7.2 552.0,-8.3 553.0,-9.5 554.0,-10.7 555.0,-11.8 556.0,-13.0 557.0,-14.1 558.0,-15.3 559.0,-16.4 560.0,-17.6 561.0,-18.7 561.0,18.9 560.0,19.8 559.0,20.6 558.0,21.4 557.0,22.3 556.0,23.1 555.0,24.0 554.0,24.8 553.0,25.7 552.0,26.5 551.0,27.4 550.0,28.2 549.0,29.1 548.0,29.9 547.0,30.8 546.0,31.6 545.0,32.4 544.0,33.3 543.0,34.1 542.0,35.0 541.0,35.8 540.0,36.7 539.0,37.5 538.0,38.4 537.0,39.2 536.0,40.1 535.0,40.9 534.0,41.8 533.0,42.6 532.0,43.5 531.0,44.3 530.0,45.2 529.0,46.0 528.0,46.9 527.0,47.7 526.0,48.6 525.0,49.4 524.0,50.3 523.0,51.1 522.0,52.0 521.0,52.8 520.0,53.7 519.0,54.5 518.0,55.4 517.0,56.2 516.0,57.1 515.0,57.9 514.0,58.8 513.0,59.6 512.0,60.5 511.0,61.3 510.0,62.2 509.0,63.1 508.0,63.9 507.0,64.8 506.0,65.6 505.0,66.5 504.0,67.3 503.0,68.2 502.0,69.1 501.0,69.9 500.0,70.8 499.0,71.6 498.0,72.5 497.0,73.4 496.0,74.2 495.0,75.1 494.0,75.9 493.0,76.8 492.0,77.7 491.0,78.5 490.0,79.4 489.0,80.3 488.0,81.2 487.0,82.0 486.0,82.9 485.0,83.8 484.0,84.6 483.0,85.5 482.0,86.4 481.0,87.3 480.0,88.2 479.0,89.0 478.0,89.9 477.0,90.8 476.0,91.7 475.0,92.6 474.0,93.5 473.0,94.4 472.0,95.3 471.0,96.2 470.0,97.1 469.0,98.0 468.0,98.9 467.0,99.8 466.0,100.7 465.0,101.6 464.0,102.5 463.0,103.4 462.0,104.4 461.0,105.3 460.0,106.2 459.0,107.2 458.0,108.1 457.0,109.1 456.0,110.0 455.0,111.0 454.0,111.9 453.0,112.9 452.0,113.9 451.0,114.8 450.0,115.8 449.0,116.8 448.0,117.8 447.0,118.8 446.0,119.8 445.0,120.8 444.0,121.8 443.0,122.8 442.0,123.8 441.0,124.9 440.0,125.9 439.0,126.9 438.0,128.0 437.0,129.0 436.0,130.1 435.0,131.1 434.0,132.2 433.0,133.2 432.0,134.3 431.0,135.4 430.0,136.5 429.0,137.5 428.0,138.6 427.0,139.7 426.0,140.8 425.0,141.9 424.0,143.0 423.0,144.1 422.0,145.2 421.0,146.3 420.0,147.4 419.0,148.5 418.0,149.6 417.0,150.7 416.0,151.8 415.0,152.9 414.0,154.0 413.0,155.2 412.0,156.3 411.0,157.4 410.0,158.5 409.0,159.6 408.0,160.8 407.0,161.9 406.0,163.0 405.0,164.2 404.0,165.3 403.0,166.4 402.0,167.5 401.0,168.7 400.0,169.8 399.0,170.9 398.0,172.1 397.0,173.2 396.0,174.3 395.0,175.5 394.0,176.6 393.0,177.8 392.0,178.9 391.0,180.0 390.0,181.2 389.0,182.3 388.0,183.5 387.0,184.6 386.0,185.7 385.0,186.9 384.0,188.0 383.0,189.2 382.0,190.3 381.0,191.5 380.0,192.6 379.0,193.7 378.0,194.9 377.0,196.0 376.0,197.2 375.0,198.3 374.0,199.5 373.0,200.6 372.0,201.8 371.0,202.9 370.0,204.1 369.0,205.2 368.0,206.4 367.0,207.5 366.0,208.7 365.0,209.8 364.0,210.9 363.0,212.1 362.0,213.2 361.0,214.4 360.0,215.5 359.0,216.7 358.0,217.8 357.0,219.0 356.0,220.1 355.0,221.3 354.0,222.4 353.0,223.6 352.0,224.7 351.0,225.9 350.0,227.1 349.0,228.2 348.0,229.4 347.0,230.5 346.0,231.7 345.0,232.8 344.0,234.0 343.0,235.1 342.0,236.3 341.0,237.4 340.0,238.6 339.0,239.7 338.0,240.9 337.0,242.0 336.0,243.2 335.0,244.3 334.0,245.5 333.0,246.6 332.0,247.8 331.0,248.9 330.0,250.1 329.0,251.3 328.0,252.4 327.0,253.6 326.0,254.7 325.0,255.9 324.0,257.0 323.0,258.2 322.0,259.3 321.0,260.5 320.0,261.6"/>
</g>
<g clip-path="url(#cr)">
<line x1="394.10" y1="105.60" x2="394.10" y2="122.30" stroke="#c4c4c4" stroke-width="1" />
<line x1="373.30" y1="144.90" x2="373.30" y2="161.00" stroke="#c4c4c4" stroke-width="1" />
<line x1="360.40" y1="162.00" x2="360.40" y2="180.40" stroke="#c4c4c4" stroke-width="1" />
<line x1="412.90" y1="170.00" x2="412.90" y2="185.00" stroke="#c4c4c4" stroke-width="1" />
<line x1="419.10" y1="170.00" x2="419.10" y2="185.00" stroke="#c4c4c4" stroke-width="1" />
<line x1="411.00" y1="192.60" x2="411.00" y2="209.80" stroke="#c4c4c4" stroke-width="1" />
<line x1="442.00" y1="141.50" x2="442.00" y2="148.30" stroke="#c4c4c4" stroke-width="1" />
<line x1="468.40" y1="146.00" x2="468.40" y2="161.00" stroke="#c4c4c4" stroke-width="1" />
<line x1="416.30" y1="103.30" x2="416.30" y2="119.00" stroke="#c4c4c4" stroke-width="1" />
<line x1="430.50" y1="80.00" x2="430.50" y2="95.00" stroke="#c4c4c4" stroke-width="1" />
<line x1="452.10" y1="71.80" x2="452.10" y2="76.00" stroke="#c4c4c4" stroke-width="1" />
<line x1="430.70" y1="112.00" x2="430.70" y2="125.00" stroke="#c4c4c4" stroke-width="1" />
<line x1="449.50" y1="125.00" x2="449.50" y2="145.00" stroke="#c4c4c4" stroke-width="1" />
<line x1="454.40" y1="121.00" x2="454.40" y2="138.00" stroke="#c4c4c4" stroke-width="1" />
<line x1="460.30" y1="113.80" x2="460.30" y2="134.00" stroke="#c4c4c4" stroke-width="1" />
<line x1="484.00" y1="61.30" x2="484.00" y2="67.20" stroke="#c4c4c4" stroke-width="1" />
<line x1="462.70" y1="71.00" x2="462.70" y2="77.00" stroke="#c4c4c4" stroke-width="1" />
<line x1="469.20" y1="141.30" x2="469.20" y2="162.00" stroke="#c4c4c4" stroke-width="1" />
<line x1="444.60" y1="125.60" x2="444.60" y2="140.00" stroke="#c4c4c4" stroke-width="1" />
<line x1="444.80" y1="136.50" x2="444.80" y2="147.30" stroke="#c4c4c4" stroke-width="1" />
<line x1="448.70" y1="123.70" x2="448.70" y2="143.40" stroke="#c4c4c4" stroke-width="1" />
<line x1="454.60" y1="124.70" x2="454.60" y2="133.00" stroke="#c4c4c4" stroke-width="1" />
<line x1="459.50" y1="121.00" x2="459.50" y2="131.00" stroke="#c4c4c4" stroke-width="1" />
<line x1="462.50" y1="120.70" x2="462.50" y2="140.40" stroke="#c4c4c4" stroke-width="1" />
<line x1="436.90" y1="108.90" x2="436.90" y2="122.00" stroke="#c4c4c4" stroke-width="1" />
<line x1="477.20" y1="124.70" x2="477.20" y2="135.00" stroke="#c4c4c4" stroke-width="1" />
<line x1="470.40" y1="129.60" x2="470.40" y2="140.00" stroke="#c4c4c4" stroke-width="1" />
<line x1="450.20" y1="90.50" x2="450.20" y2="101.00" stroke="#c4c4c4" stroke-width="1" />
<line x1="458.70" y1="99.50" x2="458.70" y2="109.00" stroke="#c4c4c4" stroke-width="1" />
<line x1="442.30" y1="86.00" x2="442.30" y2="94.50" stroke="#c4c4c4" stroke-width="1" />
<line x1="447.80" y1="107.30" x2="447.80" y2="118.00" stroke="#c4c4c4" stroke-width="1" />
</g>
<g clip-path="url(#cr)">
<use href="#S" x="394.1" y="99.7"/>
<use href="#S" x="373.3" y="139.2"/>
<use href="#S" x="360.4" y="157.0"/>
<use href="#S" x="360.4" y="185.0"/>
<use href="#S" x="412.9" y="163.9"/>
<use href="#S" x="419.1" y="163.9"/>
<use href="#S" x="411.0" y="187.5"/>
<use href="#S" x="442.0" y="135.5"/>
<use href="#S" x="468.4" y="140.5"/>
<use href="#S" x="416.3" y="97.4"/>
<use href="#S" x="430.5" y="87.6"/>
<use href="#S" x="421.6" y="113.2"/>
<use href="#S" x="436.4" y="107.3"/>
<use href="#S" x="442.3" y="94.5"/>
<use href="#S" x="452.1" y="80.2"/>
<use href="#S" x="450.2" y="90.5"/>
<use href="#S" x="447.8" y="107.3"/>
<use href="#S" x="469.5" y="72.0"/>
<use href="#S" x="473.4" y="83.8"/>
<use href="#S" x="484.3" y="77.9"/>
<use href="#S" x="483.3" y="88.7"/>
<use href="#S" x="449.4" y="89.7"/>
<use href="#S" x="460.7" y="89.7"/>
<use href="#S" x="442.0" y="94.6"/>
<use href="#S" x="458.7" y="99.5"/>
<use href="#S" x="461.6" y="104.4"/>
<use href="#S" x="447.9" y="107.4"/>
<use href="#S" x="459.7" y="109.3"/>
<use href="#S" x="468.5" y="113.3"/>
<use href="#S" x="478.4" y="112.3"/>
<use href="#S" x="444.9" y="120.2"/>
<use href="#S" x="469.5" y="127.0"/>
<use href="#S" x="476.4" y="124.1"/>
<use href="#S" x="462.6" y="121.2"/>
<use href="#S" x="510.1" y="52.4"/>
<use href="#S" x="469.8" y="49.5"/>
<use href="#S" x="469.4" y="68.8"/>
<use href="#S" x="480.6" y="75.0"/>
<use href="#S" x="478.5" y="111.5"/>
<use href="#S" x="436.7" y="107.9"/>
<use href="#S" x="444.6" y="125.6"/>
<use href="#S" x="457.0" y="108.8"/>
<use href="#S" x="462.3" y="103.9"/>
<use href="#S" x="468.2" y="114.7"/>
<use href="#S" x="469.5" y="129.5"/>
<use href="#S" x="477.0" y="126.5"/>
<use href="#G" x="464.2" y="136.5"/>
<use href="#G" x="443.3" y="102.5"/>
<use href="#G" x="454.1" y="89.8"/>
<use href="#G" x="462.6" y="80.8"/>
<use href="#G" x="460.5" y="111.8"/>
<use href="#G" x="460.5" y="117.2"/>
<use href="#G" x="454.0" y="121.5"/>
<use href="#ER" x="512.7" y="35.3"/>
<use href="#ER" x="500.9" y="47.5"/>
<use href="#ER" x="504.0" y="47.7"/>
<use href="#ER" x="489.5" y="57.4"/>
<use href="#ER" x="491.1" y="64.2"/>
<use href="#ER" x="484.6" y="70.7"/>
<use href="#ER" x="478.1" y="71.5"/>
<use href="#ER" x="510.7" y="77.4"/>
<use href="#OR" x="492.4" y="49.1"/>
<use href="#OR" x="482.4" y="83.5"/>
<use href="#YR" x="487.9" y="65.6"/>
<use href="#YR" x="430.7" y="119.5"/>
</g>
<g clip-path="url(#cr)">
<line x1="321.00" y1="239.87" x2="560.50" y2="0.59" stroke="#000" stroke-width="2.5" />
</g>
<path d="M560.5,2.0 H321.0 V261.0 H560.5" fill="none" stroke="#000" stroke-width="1"/>
<path d="M560.5,1.5 V261.5" fill="none" stroke="#4a4a4a" stroke-width="1"/>
<line x1="321.00" y1="261.00" x2="328.50" y2="261.00" stroke="#3a3a3a" stroke-width="1" />
<line x1="560.50" y1="261.00" x2="553.00" y2="261.00" stroke="#3a3a3a" stroke-width="1" />
<line x1="321.00" y1="251.82" x2="325.00" y2="251.82" stroke="#3a3a3a" stroke-width="1" />
<line x1="560.50" y1="251.82" x2="556.50" y2="251.82" stroke="#3a3a3a" stroke-width="1" />
<line x1="321.00" y1="246.46" x2="325.00" y2="246.46" stroke="#3a3a3a" stroke-width="1" />
<line x1="560.50" y1="246.46" x2="556.50" y2="246.46" stroke="#3a3a3a" stroke-width="1" />
<line x1="321.00" y1="242.65" x2="325.00" y2="242.65" stroke="#3a3a3a" stroke-width="1" />
<line x1="560.50" y1="242.65" x2="556.50" y2="242.65" stroke="#3a3a3a" stroke-width="1" />
<line x1="321.00" y1="239.70" x2="325.00" y2="239.70" stroke="#3a3a3a" stroke-width="1" />
<line x1="560.50" y1="239.70" x2="556.50" y2="239.70" stroke="#3a3a3a" stroke-width="1" />
<line x1="321.00" y1="237.28" x2="325.00" y2="237.28" stroke="#3a3a3a" stroke-width="1" />
<line x1="560.50" y1="237.28" x2="556.50" y2="237.28" stroke="#3a3a3a" stroke-width="1" />
<line x1="321.00" y1="235.24" x2="325.00" y2="235.24" stroke="#3a3a3a" stroke-width="1" />
<line x1="560.50" y1="235.24" x2="556.50" y2="235.24" stroke="#3a3a3a" stroke-width="1" />
<line x1="321.00" y1="233.48" x2="325.00" y2="233.48" stroke="#3a3a3a" stroke-width="1" />
<line x1="560.50" y1="233.48" x2="556.50" y2="233.48" stroke="#3a3a3a" stroke-width="1" />
<line x1="321.00" y1="231.92" x2="325.00" y2="231.92" stroke="#3a3a3a" stroke-width="1" />
<line x1="560.50" y1="231.92" x2="556.50" y2="231.92" stroke="#3a3a3a" stroke-width="1" />
<line x1="321.00" y1="230.52" x2="328.50" y2="230.52" stroke="#3a3a3a" stroke-width="1" />
<line x1="560.50" y1="230.52" x2="553.00" y2="230.52" stroke="#3a3a3a" stroke-width="1" />
<line x1="321.00" y1="221.35" x2="325.00" y2="221.35" stroke="#3a3a3a" stroke-width="1" />
<line x1="560.50" y1="221.35" x2="556.50" y2="221.35" stroke="#3a3a3a" stroke-width="1" />
<line x1="321.00" y1="215.99" x2="325.00" y2="215.99" stroke="#3a3a3a" stroke-width="1" />
<line x1="560.50" y1="215.99" x2="556.50" y2="215.99" stroke="#3a3a3a" stroke-width="1" />
<line x1="321.00" y1="212.18" x2="325.00" y2="212.18" stroke="#3a3a3a" stroke-width="1" />
<line x1="560.50" y1="212.18" x2="556.50" y2="212.18" stroke="#3a3a3a" stroke-width="1" />
<line x1="321.00" y1="209.23" x2="325.00" y2="209.23" stroke="#3a3a3a" stroke-width="1" />
<line x1="560.50" y1="209.23" x2="556.50" y2="209.23" stroke="#3a3a3a" stroke-width="1" />
<line x1="321.00" y1="206.81" x2="325.00" y2="206.81" stroke="#3a3a3a" stroke-width="1" />
<line x1="560.50" y1="206.81" x2="556.50" y2="206.81" stroke="#3a3a3a" stroke-width="1" />
<line x1="321.00" y1="204.77" x2="325.00" y2="204.77" stroke="#3a3a3a" stroke-width="1" />
<line x1="560.50" y1="204.77" x2="556.50" y2="204.77" stroke="#3a3a3a" stroke-width="1" />
<line x1="321.00" y1="203.01" x2="325.00" y2="203.01" stroke="#3a3a3a" stroke-width="1" />
<line x1="560.50" y1="203.01" x2="556.50" y2="203.01" stroke="#3a3a3a" stroke-width="1" />
<line x1="321.00" y1="201.45" x2="325.00" y2="201.45" stroke="#3a3a3a" stroke-width="1" />
<line x1="560.50" y1="201.45" x2="556.50" y2="201.45" stroke="#3a3a3a" stroke-width="1" />
<line x1="321.00" y1="200.06" x2="328.50" y2="200.06" stroke="#3a3a3a" stroke-width="1" />
<line x1="560.50" y1="200.06" x2="553.00" y2="200.06" stroke="#3a3a3a" stroke-width="1" />
<line x1="321.00" y1="190.88" x2="325.00" y2="190.88" stroke="#3a3a3a" stroke-width="1" />
<line x1="560.50" y1="190.88" x2="556.50" y2="190.88" stroke="#3a3a3a" stroke-width="1" />
<line x1="321.00" y1="185.52" x2="325.00" y2="185.52" stroke="#3a3a3a" stroke-width="1" />
<line x1="560.50" y1="185.52" x2="556.50" y2="185.52" stroke="#3a3a3a" stroke-width="1" />
<line x1="321.00" y1="181.71" x2="325.00" y2="181.71" stroke="#3a3a3a" stroke-width="1" />
<line x1="560.50" y1="181.71" x2="556.50" y2="181.71" stroke="#3a3a3a" stroke-width="1" />
<line x1="321.00" y1="178.76" x2="325.00" y2="178.76" stroke="#3a3a3a" stroke-width="1" />
<line x1="560.50" y1="178.76" x2="556.50" y2="178.76" stroke="#3a3a3a" stroke-width="1" />
<line x1="321.00" y1="176.34" x2="325.00" y2="176.34" stroke="#3a3a3a" stroke-width="1" />
<line x1="560.50" y1="176.34" x2="556.50" y2="176.34" stroke="#3a3a3a" stroke-width="1" />
<line x1="321.00" y1="174.30" x2="325.00" y2="174.30" stroke="#3a3a3a" stroke-width="1" />
<line x1="560.50" y1="174.30" x2="556.50" y2="174.30" stroke="#3a3a3a" stroke-width="1" />
<line x1="321.00" y1="172.54" x2="325.00" y2="172.54" stroke="#3a3a3a" stroke-width="1" />
<line x1="560.50" y1="172.54" x2="556.50" y2="172.54" stroke="#3a3a3a" stroke-width="1" />
<line x1="321.00" y1="170.98" x2="325.00" y2="170.98" stroke="#3a3a3a" stroke-width="1" />
<line x1="560.50" y1="170.98" x2="556.50" y2="170.98" stroke="#3a3a3a" stroke-width="1" />
<line x1="321.00" y1="169.58" x2="328.50" y2="169.58" stroke="#3a3a3a" stroke-width="1" />
<line x1="560.50" y1="169.58" x2="553.00" y2="169.58" stroke="#3a3a3a" stroke-width="1" />
<line x1="321.00" y1="160.41" x2="325.00" y2="160.41" stroke="#3a3a3a" stroke-width="1" />
<line x1="560.50" y1="160.41" x2="556.50" y2="160.41" stroke="#3a3a3a" stroke-width="1" />
<line x1="321.00" y1="155.05" x2="325.00" y2="155.05" stroke="#3a3a3a" stroke-width="1" />
<line x1="560.50" y1="155.05" x2="556.50" y2="155.05" stroke="#3a3a3a" stroke-width="1" />
<line x1="321.00" y1="151.24" x2="325.00" y2="151.24" stroke="#3a3a3a" stroke-width="1" />
<line x1="560.50" y1="151.24" x2="556.50" y2="151.24" stroke="#3a3a3a" stroke-width="1" />
<line x1="321.00" y1="148.29" x2="325.00" y2="148.29" stroke="#3a3a3a" stroke-width="1" />
<line x1="560.50" y1="148.29" x2="556.50" y2="148.29" stroke="#3a3a3a" stroke-width="1" />
<line x1="321.00" y1="145.87" x2="325.00" y2="145.87" stroke="#3a3a3a" stroke-width="1" />
<line x1="560.50" y1="145.87" x2="556.50" y2="145.87" stroke="#3a3a3a" stroke-width="1" />
<line x1="321.00" y1="143.83" x2="325.00" y2="143.83" stroke="#3a3a3a" stroke-width="1" />
<line x1="560.50" y1="143.83" x2="556.50" y2="143.83" stroke="#3a3a3a" stroke-width="1" />
<line x1="321.00" y1="142.07" x2="325.00" y2="142.07" stroke="#3a3a3a" stroke-width="1" />
<line x1="560.50" y1="142.07" x2="556.50" y2="142.07" stroke="#3a3a3a" stroke-width="1" />
<line x1="321.00" y1="140.51" x2="325.00" y2="140.51" stroke="#3a3a3a" stroke-width="1" />
<line x1="560.50" y1="140.51" x2="556.50" y2="140.51" stroke="#3a3a3a" stroke-width="1" />
<line x1="321.00" y1="139.12" x2="328.50" y2="139.12" stroke="#3a3a3a" stroke-width="1" />
<line x1="560.50" y1="139.12" x2="553.00" y2="139.12" stroke="#3a3a3a" stroke-width="1" />
<line x1="321.00" y1="129.94" x2="325.00" y2="129.94" stroke="#3a3a3a" stroke-width="1" />
<line x1="560.50" y1="129.94" x2="556.50" y2="129.94" stroke="#3a3a3a" stroke-width="1" />
<line x1="321.00" y1="124.58" x2="325.00" y2="124.58" stroke="#3a3a3a" stroke-width="1" />
<line x1="560.50" y1="124.58" x2="556.50" y2="124.58" stroke="#3a3a3a" stroke-width="1" />
<line x1="321.00" y1="120.77" x2="325.00" y2="120.77" stroke="#3a3a3a" stroke-width="1" />
<line x1="560.50" y1="120.77" x2="556.50" y2="120.77" stroke="#3a3a3a" stroke-width="1" />
<line x1="321.00" y1="117.82" x2="325.00" y2="117.82" stroke="#3a3a3a" stroke-width="1" />
<line x1="560.50" y1="117.82" x2="556.50" y2="117.82" stroke="#3a3a3a" stroke-width="1" />
<line x1="321.00" y1="115.40" x2="325.00" y2="115.40" stroke="#3a3a3a" stroke-width="1" />
<line x1="560.50" y1="115.40" x2="556.50" y2="115.40" stroke="#3a3a3a" stroke-width="1" />
<line x1="321.00" y1="113.36" x2="325.00" y2="113.36" stroke="#3a3a3a" stroke-width="1" />
<line x1="560.50" y1="113.36" x2="556.50" y2="113.36" stroke="#3a3a3a" stroke-width="1" />
<line x1="321.00" y1="111.60" x2="325.00" y2="111.60" stroke="#3a3a3a" stroke-width="1" />
<line x1="560.50" y1="111.60" x2="556.50" y2="111.60" stroke="#3a3a3a" stroke-width="1" />
<line x1="321.00" y1="110.04" x2="325.00" y2="110.04" stroke="#3a3a3a" stroke-width="1" />
<line x1="560.50" y1="110.04" x2="556.50" y2="110.04" stroke="#3a3a3a" stroke-width="1" />
<line x1="321.00" y1="108.64" x2="328.50" y2="108.64" stroke="#3a3a3a" stroke-width="1" />
<line x1="560.50" y1="108.64" x2="553.00" y2="108.64" stroke="#3a3a3a" stroke-width="1" />
<line x1="321.00" y1="99.47" x2="325.00" y2="99.47" stroke="#3a3a3a" stroke-width="1" />
<line x1="560.50" y1="99.47" x2="556.50" y2="99.47" stroke="#3a3a3a" stroke-width="1" />
<line x1="321.00" y1="94.11" x2="325.00" y2="94.11" stroke="#3a3a3a" stroke-width="1" />
<line x1="560.50" y1="94.11" x2="556.50" y2="94.11" stroke="#3a3a3a" stroke-width="1" />
<line x1="321.00" y1="90.30" x2="325.00" y2="90.30" stroke="#3a3a3a" stroke-width="1" />
<line x1="560.50" y1="90.30" x2="556.50" y2="90.30" stroke="#3a3a3a" stroke-width="1" />
<line x1="321.00" y1="87.35" x2="325.00" y2="87.35" stroke="#3a3a3a" stroke-width="1" />
<line x1="560.50" y1="87.35" x2="556.50" y2="87.35" stroke="#3a3a3a" stroke-width="1" />
<line x1="321.00" y1="84.93" x2="325.00" y2="84.93" stroke="#3a3a3a" stroke-width="1" />
<line x1="560.50" y1="84.93" x2="556.50" y2="84.93" stroke="#3a3a3a" stroke-width="1" />
<line x1="321.00" y1="82.89" x2="325.00" y2="82.89" stroke="#3a3a3a" stroke-width="1" />
<line x1="560.50" y1="82.89" x2="556.50" y2="82.89" stroke="#3a3a3a" stroke-width="1" />
<line x1="321.00" y1="81.13" x2="325.00" y2="81.13" stroke="#3a3a3a" stroke-width="1" />
<line x1="560.50" y1="81.13" x2="556.50" y2="81.13" stroke="#3a3a3a" stroke-width="1" />
<line x1="321.00" y1="79.57" x2="325.00" y2="79.57" stroke="#3a3a3a" stroke-width="1" />
<line x1="560.50" y1="79.57" x2="556.50" y2="79.57" stroke="#3a3a3a" stroke-width="1" />
<line x1="321.00" y1="78.17" x2="328.50" y2="78.17" stroke="#3a3a3a" stroke-width="1" />
<line x1="560.50" y1="78.17" x2="553.00" y2="78.17" stroke="#3a3a3a" stroke-width="1" />
<line x1="321.00" y1="69.00" x2="325.00" y2="69.00" stroke="#3a3a3a" stroke-width="1" />
<line x1="560.50" y1="69.00" x2="556.50" y2="69.00" stroke="#3a3a3a" stroke-width="1" />
<line x1="321.00" y1="63.64" x2="325.00" y2="63.64" stroke="#3a3a3a" stroke-width="1" />
<line x1="560.50" y1="63.64" x2="556.50" y2="63.64" stroke="#3a3a3a" stroke-width="1" />
<line x1="321.00" y1="59.83" x2="325.00" y2="59.83" stroke="#3a3a3a" stroke-width="1" />
<line x1="560.50" y1="59.83" x2="556.50" y2="59.83" stroke="#3a3a3a" stroke-width="1" />
<line x1="321.00" y1="56.88" x2="325.00" y2="56.88" stroke="#3a3a3a" stroke-width="1" />
<line x1="560.50" y1="56.88" x2="556.50" y2="56.88" stroke="#3a3a3a" stroke-width="1" />
<line x1="321.00" y1="54.46" x2="325.00" y2="54.46" stroke="#3a3a3a" stroke-width="1" />
<line x1="560.50" y1="54.46" x2="556.50" y2="54.46" stroke="#3a3a3a" stroke-width="1" />
<line x1="321.00" y1="52.42" x2="325.00" y2="52.42" stroke="#3a3a3a" stroke-width="1" />
<line x1="560.50" y1="52.42" x2="556.50" y2="52.42" stroke="#3a3a3a" stroke-width="1" />
<line x1="321.00" y1="50.66" x2="325.00" y2="50.66" stroke="#3a3a3a" stroke-width="1" />
<line x1="560.50" y1="50.66" x2="556.50" y2="50.66" stroke="#3a3a3a" stroke-width="1" />
<line x1="321.00" y1="49.10" x2="325.00" y2="49.10" stroke="#3a3a3a" stroke-width="1" />
<line x1="560.50" y1="49.10" x2="556.50" y2="49.10" stroke="#3a3a3a" stroke-width="1" />
<line x1="321.00" y1="47.70" x2="328.50" y2="47.70" stroke="#3a3a3a" stroke-width="1" />
<line x1="560.50" y1="47.70" x2="553.00" y2="47.70" stroke="#3a3a3a" stroke-width="1" />
<line x1="321.00" y1="38.53" x2="325.00" y2="38.53" stroke="#3a3a3a" stroke-width="1" />
<line x1="560.50" y1="38.53" x2="556.50" y2="38.53" stroke="#3a3a3a" stroke-width="1" />
<line x1="321.00" y1="33.17" x2="325.00" y2="33.17" stroke="#3a3a3a" stroke-width="1" />
<line x1="560.50" y1="33.17" x2="556.50" y2="33.17" stroke="#3a3a3a" stroke-width="1" />
<line x1="321.00" y1="29.36" x2="325.00" y2="29.36" stroke="#3a3a3a" stroke-width="1" />
<line x1="560.50" y1="29.36" x2="556.50" y2="29.36" stroke="#3a3a3a" stroke-width="1" />
<line x1="321.00" y1="26.41" x2="325.00" y2="26.41" stroke="#3a3a3a" stroke-width="1" />
<line x1="560.50" y1="26.41" x2="556.50" y2="26.41" stroke="#3a3a3a" stroke-width="1" />
<line x1="321.00" y1="23.99" x2="325.00" y2="23.99" stroke="#3a3a3a" stroke-width="1" />
<line x1="560.50" y1="23.99" x2="556.50" y2="23.99" stroke="#3a3a3a" stroke-width="1" />
<line x1="321.00" y1="21.95" x2="325.00" y2="21.95" stroke="#3a3a3a" stroke-width="1" />
<line x1="560.50" y1="21.95" x2="556.50" y2="21.95" stroke="#3a3a3a" stroke-width="1" />
<line x1="321.00" y1="20.19" x2="325.00" y2="20.19" stroke="#3a3a3a" stroke-width="1" />
<line x1="560.50" y1="20.19" x2="556.50" y2="20.19" stroke="#3a3a3a" stroke-width="1" />
<line x1="321.00" y1="18.63" x2="325.00" y2="18.63" stroke="#3a3a3a" stroke-width="1" />
<line x1="560.50" y1="18.63" x2="556.50" y2="18.63" stroke="#3a3a3a" stroke-width="1" />
<line x1="321.00" y1="17.23" x2="328.50" y2="17.23" stroke="#3a3a3a" stroke-width="1" />
<line x1="560.50" y1="17.23" x2="553.00" y2="17.23" stroke="#3a3a3a" stroke-width="1" />
<line x1="321.00" y1="8.06" x2="325.00" y2="8.06" stroke="#3a3a3a" stroke-width="1" />
<line x1="560.50" y1="8.06" x2="556.50" y2="8.06" stroke="#3a3a3a" stroke-width="1" />
<line x1="321.00" y1="2.70" x2="325.00" y2="2.70" stroke="#3a3a3a" stroke-width="1" />
<line x1="560.50" y1="2.70" x2="556.50" y2="2.70" stroke="#3a3a3a" stroke-width="1" />
<line x1="373.50" y1="261.00" x2="373.50" y2="253.50" stroke="#3a3a3a" stroke-width="1" />
<line x1="373.50" y1="2.00" x2="373.50" y2="9.50" stroke="#3a3a3a" stroke-width="1" />
<line x1="441.30" y1="261.00" x2="441.30" y2="253.50" stroke="#3a3a3a" stroke-width="1" />
<line x1="441.30" y1="2.00" x2="441.30" y2="9.50" stroke="#3a3a3a" stroke-width="1" />
<line x1="509.00" y1="261.00" x2="509.00" y2="253.50" stroke="#3a3a3a" stroke-width="1" />
<line x1="509.00" y1="2.00" x2="509.00" y2="9.50" stroke="#3a3a3a" stroke-width="1" />
<use href="#EL" x="87.2" y="12.5"/>
<text x="94.45" y="16.10" font-size="12.6" fill="#ff0000" textLength="7.46" lengthAdjust="spacingAndGlyphs"  stroke="#ff0000" stroke-width="0.1">E</text>
<use href="#O" x="87.2" y="25.8"/>
<text x="94.40" y="29.90" font-size="12.6" fill="#ff8000" textLength="30.62" lengthAdjust="spacingAndGlyphs"  stroke="#ff8000" stroke-width="0.1">E−S0</text>
<use href="#Y" x="87.2" y="37.4"/>
<text x="93.57" y="42.00" font-size="12.6" fill="#f8f800" textLength="14.66" lengthAdjust="spacingAndGlyphs"  stroke="#f8f800" stroke-width="0.1">S0</text>
<use href="#G" x="87.2" y="53"/>
<text x="93.54" y="56.80" font-size="12.6" fill="#10f010" textLength="37.55" lengthAdjust="spacingAndGlyphs"  stroke="#10f010" stroke-width="0.1">S0−Sa</text>
<use href="#S0" x="87.2" y="68.8"/>
<text x="93.54" y="71.80" font-size="12.6" fill="#1a1aff" textLength="7.94" lengthAdjust="spacingAndGlyphs"  stroke="#1a1aff" stroke-width="0.1">S</text>
<use href="#EL" x="345.1" y="14"/>
<text x="355.33" y="18.10" font-size="12.6" fill="#ff0000" textLength="7.80" lengthAdjust="spacingAndGlyphs"  stroke="#ff0000" stroke-width="0.1">E</text>
<use href="#O" x="345.1" y="26.9"/>
<text x="355.30" y="31.90" font-size="12.6" fill="#ff8000" textLength="30.62" lengthAdjust="spacingAndGlyphs"  stroke="#ff8000" stroke-width="0.1">E−S0</text>
<use href="#Y" x="345.1" y="39.1"/>
<text x="354.78" y="44.30" font-size="12.6" fill="#f8f800" textLength="14.55" lengthAdjust="spacingAndGlyphs"  stroke="#f8f800" stroke-width="0.1">S0</text>
<use href="#G" x="345.1" y="54.6"/>
<text x="354.53" y="58.40" font-size="12.6" fill="#10f010" textLength="37.97" lengthAdjust="spacingAndGlyphs"  stroke="#10f010" stroke-width="0.1">S0−Sa</text>
<use href="#S0" x="345.1" y="70.2"/>
<text x="354.47" y="73.10" font-size="12.6" fill="#1a1aff" textLength="8.59" lengthAdjust="spacingAndGlyphs"  stroke="#1a1aff" stroke-width="0.1">S</text>
<text x="21.06" y="234.62" font-size="17.5" fill="#111" textLength="39.70" lengthAdjust="spacingAndGlyphs"  stroke="#fff" stroke-width="0.21">1000</text>
<text x="35.18" y="204.16" font-size="17.5" fill="#111" textLength="19.56" lengthAdjust="spacingAndGlyphs"  stroke="#fff" stroke-width="0.21">10</text>
<text x="55.74" y="196.16" font-size="12" fill="#111" textLength="6.78" lengthAdjust="spacingAndGlyphs"  stroke="#fff" stroke-width="0.14">4</text>
<text x="35.18" y="173.68" font-size="17.5" fill="#111" textLength="19.56" lengthAdjust="spacingAndGlyphs"  stroke="#fff" stroke-width="0.21">10</text>
<text x="55.09" y="165.68" font-size="12" fill="#111" textLength="7.82" lengthAdjust="spacingAndGlyphs"  stroke="#fff" stroke-width="0.14">5</text>
<text x="35.18" y="143.22" font-size="17.5" fill="#111" textLength="19.56" lengthAdjust="spacingAndGlyphs"  stroke="#fff" stroke-width="0.21">10</text>
<text x="55.37" y="135.22" font-size="12" fill="#111" textLength="7.37" lengthAdjust="spacingAndGlyphs"  stroke="#fff" stroke-width="0.14">6</text>
<text x="35.18" y="112.74" font-size="17.5" fill="#111" textLength="19.56" lengthAdjust="spacingAndGlyphs"  stroke="#fff" stroke-width="0.21">10</text>
<text x="54.98" y="104.74" font-size="12" fill="#111" textLength="7.77" lengthAdjust="spacingAndGlyphs"  stroke="#fff" stroke-width="0.14">7</text>
<text x="35.18" y="82.27" font-size="17.5" fill="#111" textLength="19.56" lengthAdjust="spacingAndGlyphs"  stroke="#fff" stroke-width="0.21">10</text>
<text x="55.43" y="74.27" font-size="12" fill="#111" textLength="7.43" lengthAdjust="spacingAndGlyphs"  stroke="#fff" stroke-width="0.14">8</text>
<text x="35.18" y="51.80" font-size="17.5" fill="#111" textLength="19.56" lengthAdjust="spacingAndGlyphs"  stroke="#fff" stroke-width="0.21">10</text>
<text x="55.52" y="43.80" font-size="12" fill="#111" textLength="7.38" lengthAdjust="spacingAndGlyphs"  stroke="#fff" stroke-width="0.14">9</text>
<text x="29.18" y="21.34" font-size="17.5" fill="#111" textLength="19.56" lengthAdjust="spacingAndGlyphs"  stroke="#fff" stroke-width="0.21">10</text>
<text x="49.56" y="13.34" font-size="12" fill="#111" textLength="14.07" lengthAdjust="spacingAndGlyphs"  stroke="#fff" stroke-width="0.14">10</text>
<text x="101.92" y="279.50" font-size="17.5" fill="#111" textLength="19.94" lengthAdjust="spacingAndGlyphs"  stroke="#fff" stroke-width="0.21">20</text>
<text x="159.20" y="279.50" font-size="17.5" fill="#111" textLength="20.58" lengthAdjust="spacingAndGlyphs"  stroke="#fff" stroke-width="0.21">50</text>
<text x="198.50" y="279.50" font-size="17.5" fill="#111" textLength="30.68" lengthAdjust="spacingAndGlyphs"  stroke="#fff" stroke-width="0.21">100</text>
<text x="242.62" y="279.50" font-size="17.5" fill="#111" textLength="30.15" lengthAdjust="spacingAndGlyphs"  stroke="#fff" stroke-width="0.21">200</text>
<text x="349.88" y="281.30" font-size="17.5" fill="#111" textLength="47.21" lengthAdjust="spacingAndGlyphs"  stroke="#fff" stroke-width="0.21">−13.5</text>
<text x="424.24" y="281.30" font-size="17.5" fill="#111" textLength="33.38" lengthAdjust="spacingAndGlyphs"  stroke="#fff" stroke-width="0.21">−18</text>
<text x="484.16" y="281.30" font-size="17.5" fill="#111" textLength="48.36" lengthAdjust="spacingAndGlyphs"  stroke="#fff" stroke-width="0.21">−22.5</text>
<g transform="translate(13.7,158) rotate(-90)">
<text x="0.03" y="0.00" font-size="17.5" fill="#111" textLength="11.34" lengthAdjust="spacingAndGlyphs"  stroke="#fff" stroke-width="0.21">M</text>
<text x="11.65" y="5.20" font-size="12" fill="#111" textLength="17.12" lengthAdjust="spacingAndGlyphs"  stroke="#fff" stroke-width="0.14">BH</text>
<text x="29.60" y="0.00" font-size="20" fill="#111" textLength="8.60" lengthAdjust="spacingAndGlyphs"  stroke="#fff" stroke-width="0.24">/</text>
<text x="40.53" y="0.00" font-size="17.5" fill="#111" textLength="11.56" lengthAdjust="spacingAndGlyphs"  stroke="#fff" stroke-width="0.21">M</text>
</g>
<circle cx="14.9" cy="100.45" r="3.7" fill="none" stroke="#000" stroke-width="0.9"/>
<circle cx="14.9" cy="100.45" r="0.8" fill="#000"/>
<text x="145.56" y="301.40" font-size="17" fill="#111" font-style="italic" textLength="8.86" lengthAdjust="spacingAndGlyphs"  stroke="#fff" stroke-width="0.20">σ</text>
<text x="163.83" y="301.40" font-size="17" fill="#111" textLength="6.58" lengthAdjust="spacingAndGlyphs"  stroke="#fff" stroke-width="0.20">[</text>
<text x="171.11" y="301.40" font-size="17" fill="#111" textLength="25.90" lengthAdjust="spacingAndGlyphs"  stroke="#fff" stroke-width="0.20">km</text>
<text x="205.83" y="301.40" font-size="17" fill="#111" textLength="9.23" lengthAdjust="spacingAndGlyphs"  stroke="#fff" stroke-width="0.20">s</text>
<text x="215.07" y="293.40" font-size="11.5" fill="#111" textLength="15.50" lengthAdjust="spacingAndGlyphs"  stroke="#fff" stroke-width="0.14">−1</text>
<text x="232.15" y="301.40" font-size="17" fill="#111" textLength="5.98" lengthAdjust="spacingAndGlyphs"  stroke="#fff" stroke-width="0.20">]</text>
<text x="388.38" y="296.40" font-size="17" fill="#111" font-style="italic" textLength="12.81" lengthAdjust="spacingAndGlyphs"  stroke="#fff" stroke-width="0.20">M</text>
<text x="401.90" y="302.30" font-size="11.5" fill="#111" textLength="18.34" lengthAdjust="spacingAndGlyphs"  stroke="#fff" stroke-width="0.14">3.6</text>
<text x="426.21" y="301.40" font-size="11.5" fill="#111" font-style="italic" textLength="6.84" lengthAdjust="spacingAndGlyphs"  stroke="#fff" stroke-width="0.14">μ</text>
<text x="432.52" y="301.40" font-size="11.5" fill="#111" textLength="13.96" lengthAdjust="spacingAndGlyphs"  stroke="#fff" stroke-width="0.14">m</text>
<text x="455.27" y="296.40" font-size="17" fill="#111" textLength="6.88" lengthAdjust="spacingAndGlyphs"  stroke="#fff" stroke-width="0.20">[</text>
<text x="462.46" y="296.40" font-size="17" fill="#111" textLength="36.45" lengthAdjust="spacingAndGlyphs"  stroke="#fff" stroke-width="0.20">mag</text>
<text x="499.27" y="296.40" font-size="17" fill="#111" textLength="6.73" lengthAdjust="spacingAndGlyphs"  stroke="#fff" stroke-width="0.20">]</text>
<text x="381.10" y="235.60" font-size="12.5" fill="#111" textLength="66.40" lengthAdjust="spacingAndGlyphs"  stroke="#111" stroke-width="0.15">Bulge+Disk</text>
<text x="453.86" y="235.60" font-size="12.5" fill="#111" textLength="11.74" lengthAdjust="spacingAndGlyphs"  stroke="#111" stroke-width="0.15">of</text>
<text x="471.20" y="235.60" font-size="12.5" fill="#111" textLength="39.45" lengthAdjust="spacingAndGlyphs"  stroke="#111" stroke-width="0.15">early−</text>
<text x="386.88" y="247.10" font-size="12.5" fill="#111" textLength="21.30" lengthAdjust="spacingAndGlyphs"  stroke="#111" stroke-width="0.15">and</text>
<text x="413.88" y="247.10" font-size="12.5" fill="#111" textLength="65.59" lengthAdjust="spacingAndGlyphs"  stroke="#111" stroke-width="0.15">late−types</text>
<text x="91.54" y="124.20" font-size="8.5" fill="#111" font-weight="bold" textLength="23.58" lengthAdjust="spacingAndGlyphs" >N5457</text>
<text x="187.13" y="49.30" font-size="8.5" fill="#111" font-weight="bold" textLength="24.09" lengthAdjust="spacingAndGlyphs" >N5055</text>
</svg></body></html>
